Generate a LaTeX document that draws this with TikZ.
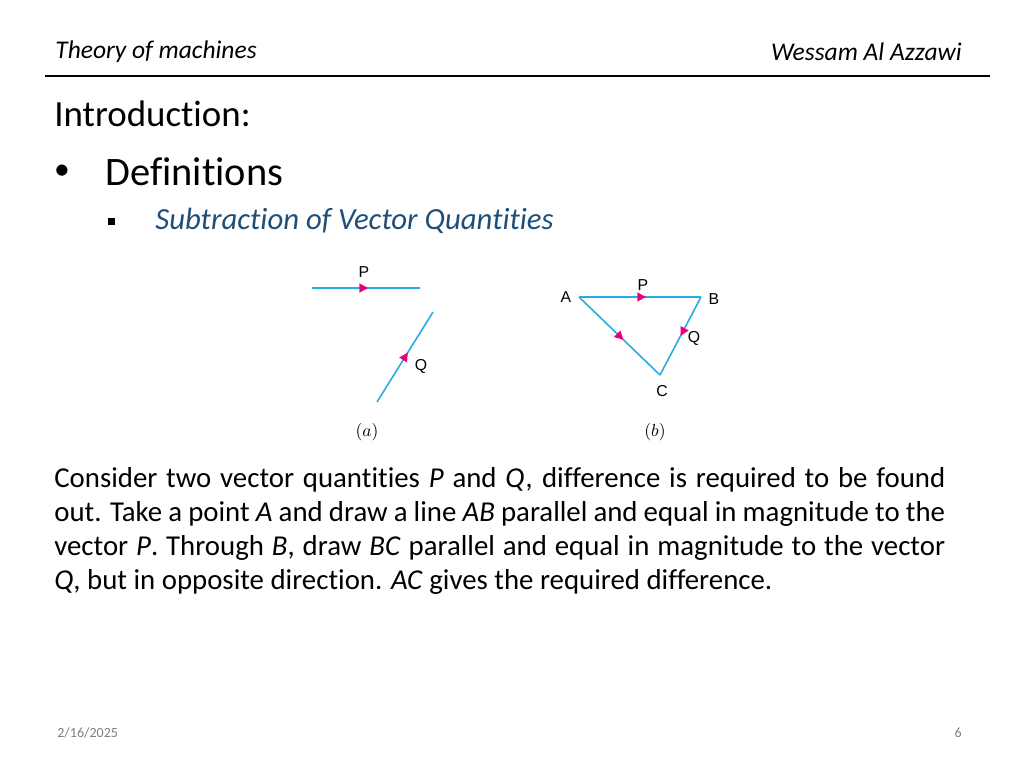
\documentclass[tikz,border=0pt]{standalone}
\usepackage{fontspec}
\setmainfont[Ligatures=NoCommon]{Carlito}
\setsansfont{Liberation Sans}
\usetikzlibrary{positioning,decorations.markings,arrows.meta}
\definecolor{vecblue}{RGB}{41,171,226}
\definecolor{tipred}{RGB}{230,0,126}
\definecolor{titleblue}{RGB}{31,78,121}
\tikzset{
  vec/.style={vecblue, line width=0.9pt},
  midtip/.style={postaction=decorate, decoration={markings,
    mark=at position #1 with {\arrow[tipred]{Triangle[length=5pt,width=5pt]}}}},
  lbl/.style={font=\sffamily\fontsize{9}{9}\selectfont},
}
\begin{document}
\begin{tikzpicture}[x=0.02cm,y=-0.02cm]
  \useasboundingbox (0,0) rectangle (1024,768);

  % header
  \node[anchor=west, inner sep=0pt, font=\itshape\fontsize{14.5}{15}\selectfont] (course) at (55,52) {Theory of machines};
  \node[anchor=east, inner sep=0pt, font=\itshape\fontsize{14.5}{15}\selectfont] (author) at (962,52) {Wessam Al Azzawi};
  \draw[line width=1.2pt] (45,76) -- (990,76);

  % titles
  \node[anchor=west, inner sep=0pt, font=\fontsize{21}{22}\selectfont] (intro) at (54,114) {Introduction:};
  \node[font=\fontsize{18}{20}\selectfont] (dot) at (62,172) {•};
  \node[anchor=west, inner sep=0pt, font=\fontsize{23}{24}\selectfont] (defs) at (105,172) {Definitions};
  \fill (107.5,217.5) rectangle (114.5,224.5);
  \node[anchor=west, inner sep=0pt, text=titleblue, font=\itshape\fontsize{17.5}{18}\selectfont] (sub) at (155,221) {Subtraction of Vector Quantities};

  % (a)
  \coordinate (pa1) at (312,288);
  \coordinate (pa2) at (420,288);
  \coordinate (qa1) at (377,402);
  \coordinate (qa2) at (433,312);
  \draw[vec, midtip=0.52] (pa1) -- (pa2);
  \draw[vec, midtip=0.55] (qa1) -- (qa2);
  \node[lbl] (pla) at (364,272) {P};
  \node[lbl] (qla) at (421,366) {Q};
  \node (capa) at (367,432) {$(a)$};

  % (b)
  \coordinate (A) at (579,297);
  \coordinate (B) at (701,297);
  \coordinate (C) at (660,375);
  \draw[vec, midtip=0.55] (A) -- (B);
  \draw[vec, midtip=0.5] (B) -- (C);
  \draw[vec, midtip=0.55] (A) -- (C);
  \node[lbl] (la) at (566,297) {A};
  \node[lbl] (lb) at (714,299) {B};
  \node[lbl] (lc) at (662,391) {C};
  \node[lbl] (lp) at (643,285) {P};
  \node[lbl] (lq) at (694,338) {Q};
  \node (capb) at (655,432) {$(b)$};

  % text
  \node[anchor=north west, inner sep=0pt, text width=17.82cm, align=justify,
        font=\fontsize{16.4}{19.3}\selectfont] (para) at (54,467)
    {Consider two vector quantities \textit{P} and \textit{Q,} difference is required to be found out. Take a point \textit{A} and draw a line \textit{AB} parallel and equal in magnitude to the vector \textit{P}. Through \textit{B}, draw \textit{BC} parallel and equal in magnitude to the vector \textit{Q}, but in opposite direction. \textit{AC} gives the required difference.};

  % footer
  \node[anchor=west, inner sep=0pt, text=gray, font=\fontsize{8}{8}\selectfont] (date) at (57,733) {2/16/2025};
  \node[anchor=east, inner sep=0pt, text=gray, font=\fontsize{8}{8}\selectfont] (page) at (962,733) {6};
\end{tikzpicture}
\end{document}
